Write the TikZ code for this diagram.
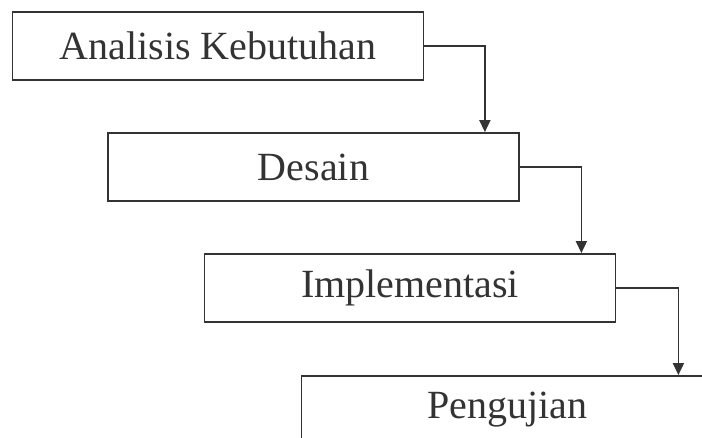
\documentclass[tikz,border=0pt]{standalone}
\usepackage{fontspec}
\setmainfont{Liberation Serif}
\usetikzlibrary{arrows.meta}
\definecolor{ink}{HTML}{333333}
\begin{document}
\begin{tikzpicture}[x=1pt,y=-1pt,
  stage/.style={draw=ink, line width=1.8pt, minimum width=411pt, minimum height=68pt,
    inner sep=0pt, text=ink, font=\fontsize{40}{40}\selectfont, fill=white},
  flow/.style={draw=ink, line width=1.8pt, -{Triangle[width=11pt,length=12pt]}}]
  \useasboundingbox (0,0) rectangle (702,438);
  \clip (0,0) rectangle (702,438);
  \node[stage] (a) at (218,46) {Analisis Kebutuhan};
  \node[stage] (d) at (313.5,167) {Desain};
  \node[stage] (i) at (410,288) {Implementasi};
  \node[stage] (p) at (507,410) {Pengujian};
  \draw[flow] (a.east) -| ([xshift=-35pt]d.north east);
  \draw[flow] (d.east) -| ([xshift=-35pt]i.north east);
  \draw[flow] (i.east) -| ([xshift=-35pt]p.north east);
\end{tikzpicture}
\end{document}
